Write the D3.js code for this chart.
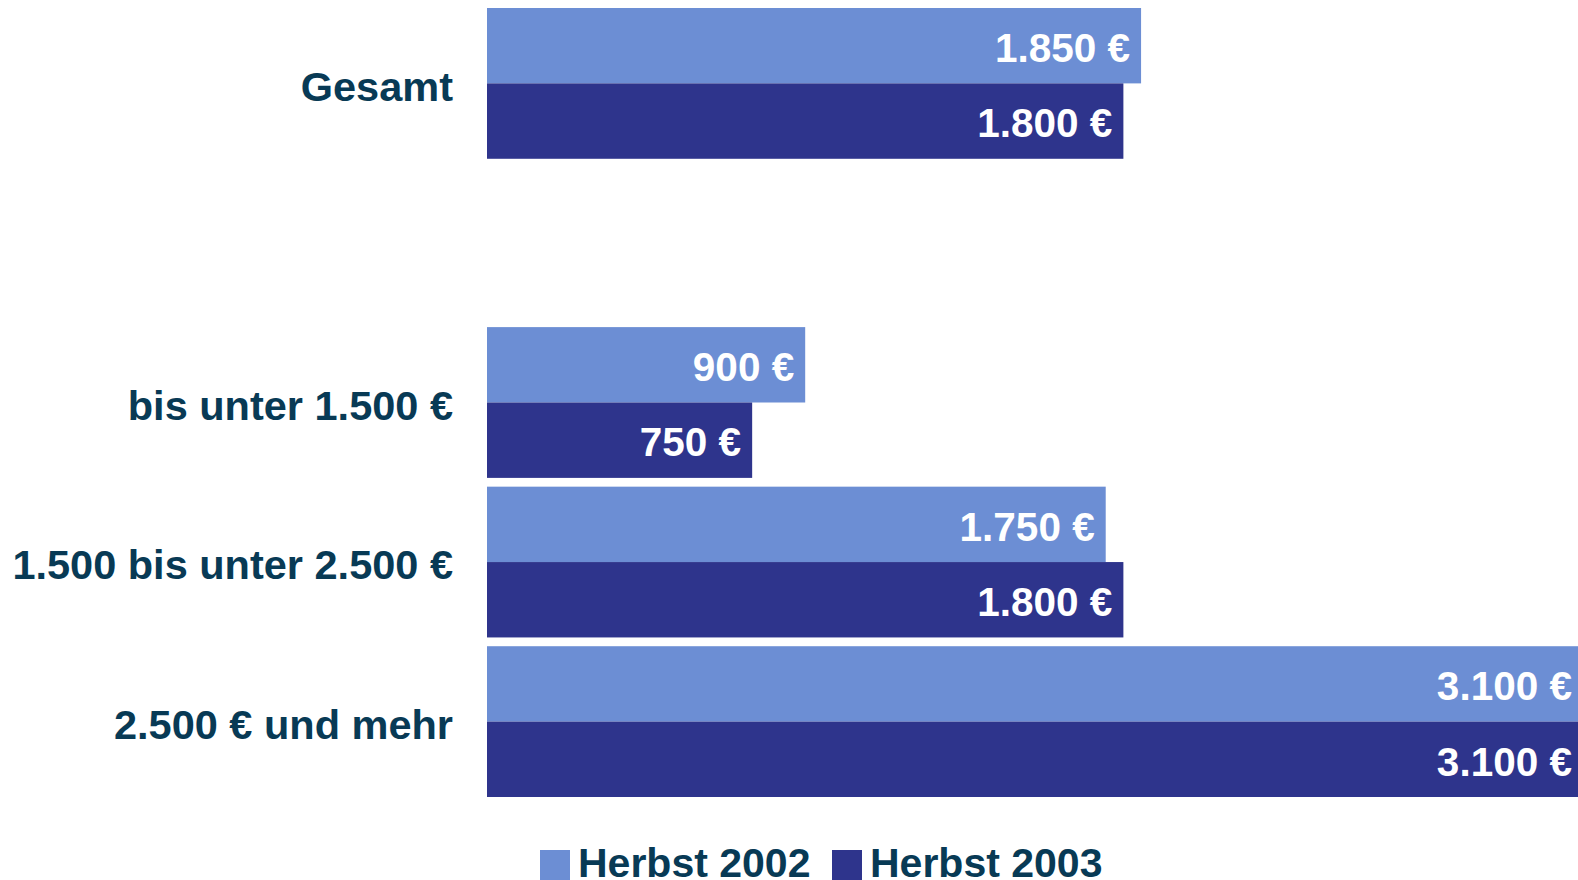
<!DOCTYPE html>
<html>
<head>
<meta charset="utf-8">
<script src="https://cdn.jsdelivr.net/npm/d3@7"></script>
<style>
  html, body { margin: 0; padding: 0; background: #fff; overflow: hidden; }
  svg { display: block; font-family: "Liberation Sans", Arial, sans-serif; font-weight: bold; }
</style>
</head>
<body>
<script>
// categories (the empty string is the spacer row under "Gesamt")
const categories = ["Gesamt", "", "bis unter 1.500 €", "1.500 bis unter 2.500 €", "2.500 € und mehr"];
const seriesNames = ["Herbst 2002", "Herbst 2003"];
const herbst2002 = [1850, null, 900, 1750, 3100];
const herbst2003 = [1800, null, 750, 1800, 3100];

const width = 1578, height = 880;
const colors = { "Herbst 2002": "#6c8ed4", "Herbst 2003": "#2e348c" };
const textColor = "#083a55";

const svg = d3.select("body").append("svg")
    .attr("width", width)
    .attr("height", height);

// scales
const x = d3.scaleLinear().domain([0, 3100]).range([487, 1583]);
const y = d3.scaleBand().domain(categories).range([8, 797]).paddingInner(0.055).paddingOuter(0);
const ySub = d3.scaleBand().domain(seriesNames).range([0, y.bandwidth()]);

const fmt = v => d3.format(",")(v).replace(/,/g, ".") + " €";

// flatten into rows for drawing
const rows = [];
categories.forEach((c, i) => {
  if (herbst2002[i] != null) rows.push({ cat: c, series: "Herbst 2002", value: herbst2002[i] });
  if (herbst2003[i] != null) rows.push({ cat: c, series: "Herbst 2003", value: herbst2003[i] });
});

const barGroup = svg.append("g");
barGroup.selectAll("rect")
  .data(rows)
  .join("rect")
    .attr("x", x(0))
    .attr("y", d => y(d.cat) + ySub(d.series))
    .attr("width", d => x(d.value) - x(0))
    .attr("height", ySub.bandwidth())
    .attr("fill", d => colors[d.series]);

// value labels inside the bars
barGroup.selectAll("text")
  .data(rows)
  .join("text")
    .attr("x", d => x(d.value) - 11)
    .attr("y", d => y(d.cat) + ySub(d.series) + ySub.bandwidth() / 2)
    .attr("dy", "0.4em")
    .attr("text-anchor", "end")
    .attr("fill", "#fff")
    .style("font-size", "40.5px")
    .text(d => fmt(d.value));

// category labels
svg.append("g").selectAll("text")
  .data(categories.filter(c => c !== ""))
  .join("text")
    .attr("x", 453)
    .attr("y", d => y(d) + y.bandwidth() / 2)
    .attr("dy", "0.42em")
    .attr("text-anchor", "end")
    .attr("fill", textColor)
    .style("font-size", "41.5px")
    .text(d => d);

// legend
const legend = svg.append("g").attr("transform", "translate(540, 850)");
const legendX = d3.scalePoint().domain(seriesNames).range([0, 292]);
const item = legend.selectAll("g")
  .data(seriesNames)
  .join("g")
    .attr("transform", d => `translate(${legendX(d)}, 0)`);
item.append("rect")
    .attr("width", 30)
    .attr("height", 30)
    .attr("fill", d => colors[d]);
item.append("text")
    .attr("x", 38)
    .attr("y", 27)
    .attr("fill", textColor)
    .style("font-size", "41px")
    .text(d => d);
</script>
</body>
</html>
